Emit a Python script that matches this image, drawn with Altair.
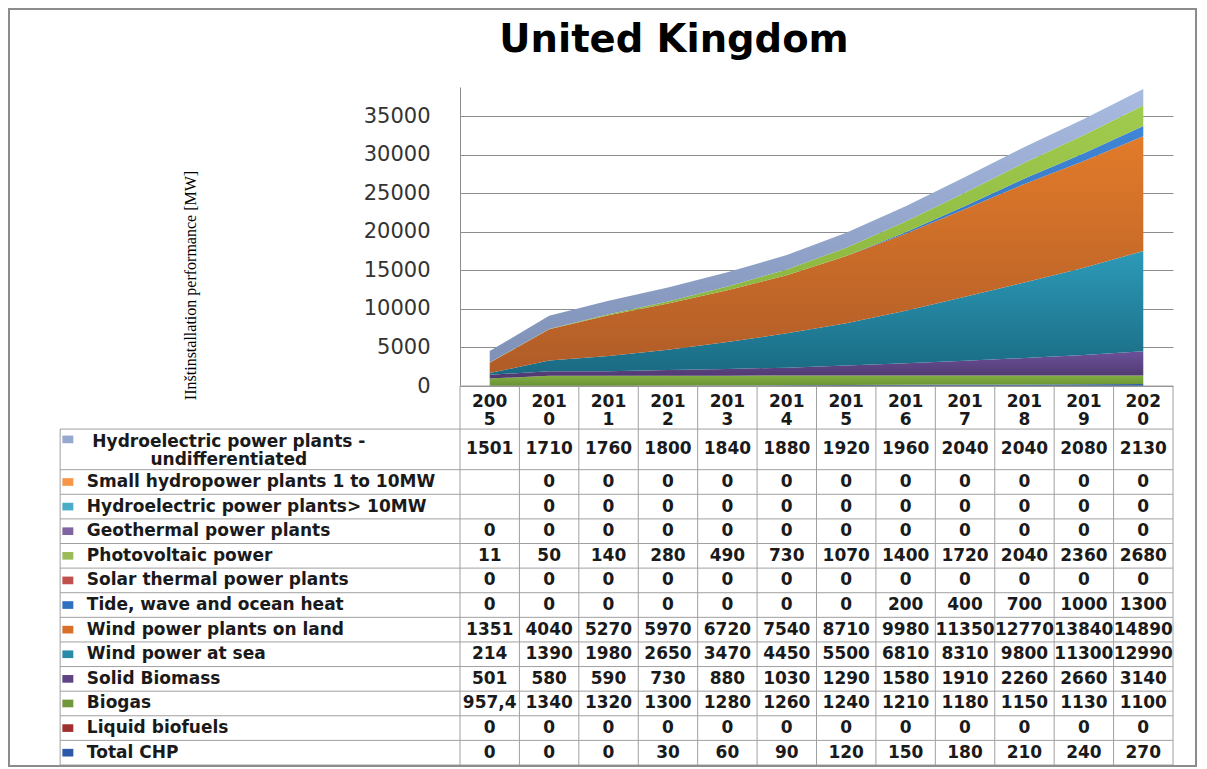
import altair as alt
import pandas as pd

# ---------------- data ----------------
title_text = "United Kingdom"
y_title = "IInštinstallation performance [MW]"

years = [2005, 2010, 2011, 2012, 2013, 2014, 2015, 2016, 2017, 2018, 2019, 2020]

series_names = [
    "Hydroelectric power plants - undifferentiated",
    "Small hydropower plants 1 to 10MW",
    "Hydroelectric power plants> 10MW",
    "Geothermal power plants",
    "Photovoltaic power",
    "Solar thermal power plants",
    "Tide, wave and ocean heat",
    "Wind power plants on land",
    "Wind power at sea",
    "Solid Biomass",
    "Biogas",
    "Liquid biofuels",
    "Total CHP",
]
row_labels = [
    "Hydroelectric power plants -\nundifferentiated",
    "Small hydropower plants 1 to 10MW",
    "Hydroelectric power plants> 10MW",
    "Geothermal power plants",
    "Photovoltaic power",
    "Solar thermal power plants",
    "Tide, wave and ocean heat",
    "Wind power plants on land",
    "Wind power at sea",
    "Solid Biomass",
    "Biogas",
    "Liquid biofuels",
    "Total CHP",
]

hydro_undiff = [1501, 1710, 1760, 1800, 1840, 1880, 1920, 1960, 2040, 2040, 2080, 2130]
small_hydro = [None, 0, 0, 0, 0, 0, 0, 0, 0, 0, 0, 0]
hydro_large = [None, 0, 0, 0, 0, 0, 0, 0, 0, 0, 0, 0]
geothermal = [0, 0, 0, 0, 0, 0, 0, 0, 0, 0, 0, 0]
photovoltaic = [11, 50, 140, 280, 490, 730, 1070, 1400, 1720, 2040, 2360, 2680]
solar_thermal = [0, 0, 0, 0, 0, 0, 0, 0, 0, 0, 0, 0]
tide = [0, 0, 0, 0, 0, 0, 0, 200, 400, 700, 1000, 1300]
wind_land = [1351, 4040, 5270, 5970, 6720, 7540, 8710, 9980, 11350, 12770, 13840, 14890]
wind_sea = [214, 1390, 1980, 2650, 3470, 4450, 5500, 6810, 8310, 9800, 11300, 12990]
solid_biomass = [501, 580, 590, 730, 880, 1030, 1290, 1580, 1910, 2260, 2660, 3140]
biogas = [957.4, 1340, 1320, 1300, 1280, 1260, 1240, 1210, 1180, 1150, 1130, 1100]
liquid_biofuels = [0, 0, 0, 0, 0, 0, 0, 0, 0, 0, 0, 0]
total_chp = [0, 0, 0, 30, 60, 90, 120, 150, 180, 210, 240, 270]

series_values = [hydro_undiff, small_hydro, hydro_large, geothermal, photovoltaic,
                 solar_thermal, tide, wind_land, wind_sea, solid_biomass, biogas,
                 liquid_biofuels, total_chp]

y_ticks = [0, 5000, 10000, 15000, 20000, 25000, 30000, 35000]

# ---------------- styles ----------------
swatch_colors = [
    "#95A8CF", "#F79646", "#4BACC6", "#8064A2", "#9BBB59", "#C0504D", "#3070C0",
    "#D8702A", "#2A8BA8", "#5F4385", "#71973A", "#A03030", "#2C5AA8",
]
area_gradients = [  # (top, bottom) of each area's fill
    ("#A8BADF", "#8091B8"), ("#F79646", "#E0853A"), ("#4BACC6", "#3A93AB"),
    ("#8064A2", "#6A528A"), ("#A0CB4E", "#86B03C"), ("#C0504D", "#A8423F"),
    ("#3F86D6", "#2E67AE"), ("#E27B2A", "#B05C28"), ("#2C9AB8", "#1A6A82"),
    ("#6C519A", "#4E386E"), ("#80AE42", "#6A9234"), ("#953735", "#7E2D2B"),
    ("#3468B5", "#24508F"),
]

PLOT_W = 713
AREA_H = 299
TABLE_H = 379
HEADER_H = 1.75   # table rows in "row units"
FIRST_H = 1.65
N_ROWS = len(series_names)
TABLE_UNITS = HEADER_H + FIRST_H + (N_ROWS - 1)
LABEL_LEFT = -6.73   # label column left border (column units)
SWATCH_X = -6.6
LABEL_X = -6.28
FIRST_LABEL_X = -3.89
FONT = "DejaVu Sans"
TXT = "#1a1a1a"


def fmt(v):
    if v is None:
        return ""
    if float(v).is_integer():
        return str(int(v))
    return str(v).replace(".", ",")


def row_top(r):
    return HEADER_H if r == 0 else HEADER_H + FIRST_H + (r - 1)


def row_h(r):
    return FIRST_H if r == 0 else 1.0


recs = []
for s, (name, vals) in enumerate(zip(series_names, series_values)):
    for i, (yr, v) in enumerate(zip(years, vals)):
        recs.append(dict(series=name, year=yr, col=i + 0.5,
                         value=0 if v is None else v,
                         stack=N_ROWS - 1 - s, text=fmt(v),
                         yc=row_top(s) + row_h(s) / 2))
df = pd.DataFrame(recs)

swatch_scale = alt.Scale(domain=series_names, range=swatch_colors)

# ---------------- area chart ----------------
x_area = alt.X("col:Q", scale=alt.Scale(domain=[0, 12], nice=False, zero=False), axis=None)
y_axis = alt.Axis(values=y_ticks, ticks=False, labelPadding=30, format="d",
                  labelFont=FONT, labelFontSize=21, labelColor="#333333",
                  labelFlush=False,
                  domainColor="#8c8c8c", gridColor="#8c8c8c",
                  title=y_title,
                  titleFont="Liberation Serif", titleFontSize=16,
                  titleFontWeight="normal", titleColor="black",
                  titleX=-270, titleY=198, titleAngle=270,
                  titleAlign="center", titleBaseline="middle")
y_scale = alt.Scale(domain=[0, 38760], nice=False)

area_layers = []
for s in range(N_ROWS - 1, -1, -1):
    top, bot = area_gradients[s]
    grad = alt.Gradient(gradient="linear", x1=0, y1=0, x2=0, y2=1,
                        stops=[alt.GradientStop(color=top, offset=0),
                               alt.GradientStop(color=bot, offset=1)])
    layer = alt.Chart(df).transform_stack(
        stack="value", groupby=["col"], as_=["y0", "y1"],
        sort=[alt.SortField("stack", order="ascending")],
    ).transform_filter(
        alt.datum.series == series_names[s]
    ).mark_area(color=grad, opacity=1).encode(
        x=x_area,
        y=alt.Y("y1:Q", scale=y_scale, axis=y_axis),
        y2="y0:Q",
    )
    area_layers.append(layer)

title_mark = alt.Chart(pd.DataFrame({"t": [title_text]})).mark_text(
    font=FONT, fontSize=38.5, fontWeight="bold", color="black",
    align="center", baseline="alphabetic").encode(
    x=alt.value(214), y=alt.value(-35), text="t:N")

area = alt.layer(*area_layers, title_mark).properties(width=PLOT_W, height=AREA_H)

# ---------------- table ----------------
xs = alt.Scale(domain=[0, 12], nice=False, zero=False)
ys = alt.Scale(domain=[0, TABLE_UNITS], nice=False, zero=False, reverse=True)

bounds_y = [0.0] + [row_top(r) for r in range(N_ROWS)] + [TABLE_UNITS]
lines = []
for k, yv in enumerate(bounds_y):
    lines.append(dict(x=0 if k == 0 else LABEL_LEFT, x2=12, y=yv, y2=yv))
for c in range(13):
    lines.append(dict(x=c, x2=c, y=0, y2=TABLE_UNITS))
lines.append(dict(x=LABEL_LEFT, x2=LABEL_LEFT, y=HEADER_H, y2=TABLE_UNITS))
grid = alt.Chart(pd.DataFrame(lines)).mark_rule(color="#a0a0a0", strokeWidth=1).encode(
    x=alt.X("x:Q", scale=xs, axis=None), x2="x2:Q",
    y=alt.Y("y:Q", scale=ys, axis=None), y2="y2:Q",
)

hdr = pd.DataFrame(dict(col=[i + 0.5 for i in range(len(years))],
                        label=[str(y)[:3] + "\n" + str(y)[3:] for y in years],
                        yc=[HEADER_H / 2] * len(years)))
header = alt.Chart(hdr).mark_text(font=FONT, fontSize=17, fontWeight="bold",
                                  color=TXT, lineBreak="\n", lineHeight=18, dy=-6,
                                  baseline="middle", align="center").encode(
    x=alt.X("col:Q", scale=xs, axis=None),
    y=alt.Y("yc:Q", scale=ys, axis=None),
    text="label:N",
)

nums = alt.Chart(df).mark_text(font=FONT, fontSize=17, fontWeight="bold",
                               color=TXT, baseline="middle", align="center").encode(
    x=alt.X("col:Q", scale=xs, axis=None),
    y=alt.Y("yc:Q", scale=ys, axis=None),
    text="text:N",
)

lab = pd.DataFrame(dict(series=series_names, label=row_labels,
                        yc=[row_top(r) + row_h(r) / 2 for r in range(N_ROWS)],
                        sx=[SWATCH_X] * N_ROWS,
                        lx=[FIRST_LABEL_X] + [LABEL_X] * (N_ROWS - 1),
                        first=[1] + [0] * (N_ROWS - 1)))
lab["sy"] = [row_top(0) + 0.42] + [row_top(r) + 0.5 for r in range(1, N_ROWS)]

swatches = alt.Chart(lab).mark_point(
    shape="M-1,-0.7H1V0.7H-1Z", filled=True, size=120, opacity=1, strokeWidth=0).encode(
    x=alt.X("sx:Q", scale=xs, axis=None),
    y=alt.Y("sy:Q", scale=ys, axis=None),
    color=alt.Color("series:N", scale=swatch_scale, legend=None),
)
labels_rest = alt.Chart(lab).transform_filter("datum.first == 0").mark_text(
    font=FONT, fontSize=17, fontWeight="bold", color=TXT,
    baseline="middle", align="left").encode(
    x=alt.X("lx:Q", scale=xs, axis=None),
    y=alt.Y("yc:Q", scale=ys, axis=None),
    text="label:N",
)
labels_first = alt.Chart(lab).transform_filter("datum.first == 1").mark_text(
    font=FONT, fontSize=17, fontWeight="bold", color=TXT, lineBreak="\n",
    lineHeight=18, dy=-7, baseline="middle", align="center").encode(
    x=alt.X("lx:Q", scale=xs, axis=None),
    y=alt.Y("yc:Q", scale=ys, axis=None),
    text="label:N",
)

frame = alt.Chart(pd.DataFrame({"a": [0]})).mark_rect(
    fillOpacity=0, stroke="#8c8c8c", strokeWidth=2).encode(
    x=alt.value(-451), x2=alt.value(736), y=alt.value(-377), y2=alt.value(380),
)

table = alt.layer(grid, header, nums, swatches, labels_rest, labels_first, frame).properties(
    width=PLOT_W, height=TABLE_H)

chart = alt.vconcat(area, table, spacing=0, bounds="flush", padding=0).resolve_scale(
    x="independent", y="independent", color="independent").configure_view(strokeWidth=0)

chart.save("out.html", embed_options={"renderer": "svg", "actions": False})
